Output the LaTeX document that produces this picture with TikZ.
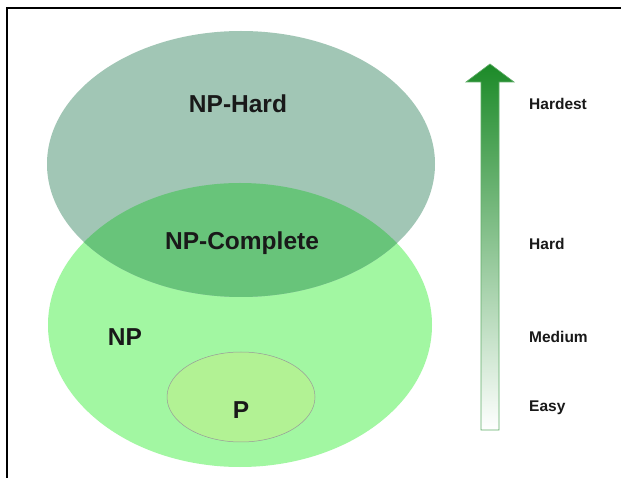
\documentclass[tikz,border=0pt]{standalone}
\usepackage{fontspec}
\setmainfont{Liberation Sans}
\usepackage{tikz}

\definecolor{hardgreen}{RGB}{161,198,181}
\definecolor{npgreen}{RGB}{162,247,162}
\definecolor{bothgreen}{RGB}{104,196,122}
\definecolor{pgreen}{RGB}{178,242,148}
\definecolor{arrowgreen}{RGB}{28,138,40}
\definecolor{arrowmid}{RGB}{96,184,100}

\begin{document}
\begin{tikzpicture}[x=1pt,y=-1pt,
    setname/.style={font=\fontsize{24.5}{28}\selectfont\bfseries,text=black!90,inner sep=0pt},
    level/.style={font=\fontsize{15.5}{18}\selectfont\bfseries,text=black!90,anchor=west,inner sep=0pt}]
      \useasboundingbox (0,0) rectangle (627,478);
      \fill[white] (0,0) rectangle (627,478);
      \draw[line width=1.1pt] (7,478) -- (7,8) -- (621,8);

      \fill[npgreen] (240,325) ellipse [x radius=192pt, y radius=142pt];
      \fill[hardgreen] (241,164) ellipse [x radius=194pt, y radius=133pt];
      \begin{scope}
        \clip (240,325) ellipse [x radius=192pt, y radius=142pt];
        \fill[bothgreen] (241,164) ellipse [x radius=194pt, y radius=133pt];
      \end{scope}
      \filldraw[fill=pgreen,draw=gray!80,line width=0.5pt] (241,397) ellipse [x radius=74pt, y radius=45pt];

      \node[setname](NPH) at (238,104) {NP-Hard};
      \node[setname](NPC) at (242,243) {NP-Complete};
      \node[setname](NP) at (125,337) {NP};
      \node[setname](P) at (241,410) {P};

      \shadedraw[top color=arrowgreen,middle color=arrowmid,bottom color=white,draw=arrowgreen!70,line width=0.6pt]
        (481,430) -- (481,82) -- (466,82) -- (490,64) -- (514,82) -- (499,82) -- (499,430) -- cycle;

      \node[level](HT) at (529,104) {Hardest};
      \node[level](HD) at (529,244) {Hard};
      \node[level](MD) at (529,337) {Medium};
      \node[level](EZ) at (529,408) {Easy};
    \end{tikzpicture}
\end{document}
